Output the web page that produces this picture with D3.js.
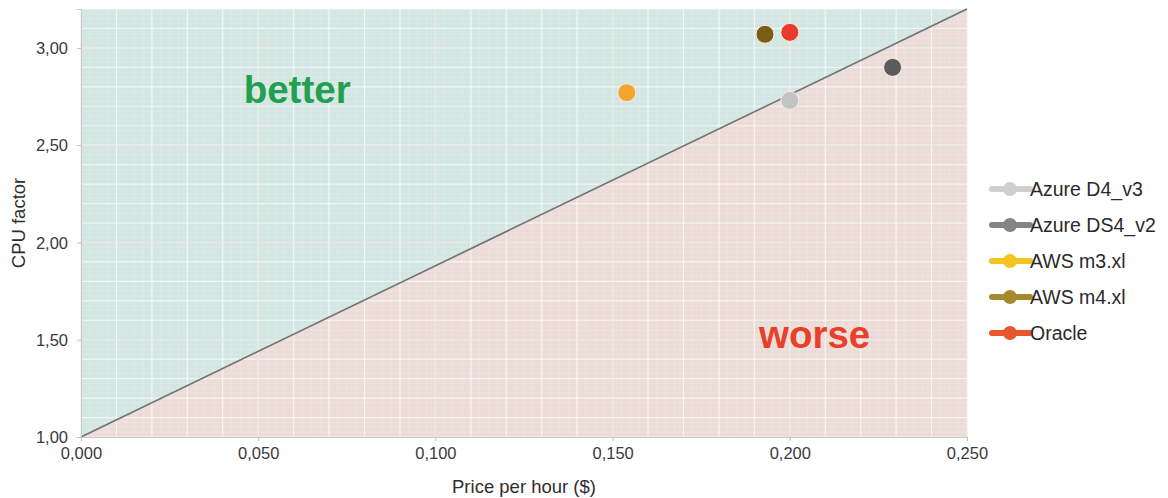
<!DOCTYPE html>
<html>
<head>
<meta charset="utf-8">
<script src="https://d3js.org/d3.v7.min.js"></script>
<style>
  body { margin: 0; background: #fff; }
  svg { display: block; font-family: "Liberation Sans", Arial, sans-serif; }
</style>
</head>
<body>
<script>
// Data
const names = ["Azure D4_v3", "Azure DS4_v2", "AWS m3.xl", "AWS m4.xl", "Oracle"];
const prices = [0.200, 0.229, 0.154, 0.193, 0.200];
const cpuFactors = [2.73, 2.90, 2.77, 3.07, 3.08];
const dotColors = ["#c3c3c3", "#595b5d", "#f4a52a", "#7b5c14", "#e8392b"];
const legendColors = ["#cfcfcf", "#848484", "#f5c320", "#a48a2c", "#e9552d"];
const xTicks = [0, 0.05, 0.1, 0.15, 0.2, 0.25];
const yTicks = [1, 1.5, 2, 2.5, 3];
const breakEven = [[0, 1], [0.25, 3.2]];
const notes = [
  { text: "better", x: 0.061, y: 2.715, color: "#22a04f" },
  { text: "worse", x: 0.207, y: 1.46, color: "#e8412b" }
];

const width = 1168, height = 498;
const marginLeft = 81, marginRight = 201, marginTop = 9, marginBottom = 61;

const x = d3.scaleLinear().domain([0, 0.25]).range([marginLeft, width - marginRight]);
const y = d3.scaleLinear().domain([1, 3.2]).range([height - marginBottom, marginTop]);

const svg = d3.select("body").append("svg").attr("width", width).attr("height", height);

// Background regions
const area = d3.line().x(d => x(d[0])).y(d => y(d[1]));
svg.append("path")
  .attr("d", area([[0, 1], [0, 3.2], [0.25, 3.2]]) + "Z")
  .attr("fill", "#d3e6e2");
svg.append("path")
  .attr("d", area([[0, 1], [0.25, 1], [0.25, 3.2]]) + "Z")
  .attr("fill", "#ecdcd7");

// Fine grid
const grid = svg.append("g");
const fineX = d3.range(0, 0.2501, 0.0025);
const fineY = d3.range(1, 3.2001, 0.025);
grid.selectAll(".fx").data(fineX).enter().append("line")
  .attr("x1", d => x(d)).attr("x2", d => x(d))
  .attr("y1", y(1)).attr("y2", y(3.2))
  .attr("stroke", "#fff").attr("stroke-opacity", 0.22).attr("stroke-width", 0.8);
grid.selectAll(".fy").data(fineY).enter().append("line")
  .attr("y1", d => y(d)).attr("y2", d => y(d))
  .attr("x1", x(0)).attr("x2", x(0.25))
  .attr("stroke", "#fff").attr("stroke-opacity", 0.22).attr("stroke-width", 0.8);

// Minor grid
const minorX = d3.range(0, 0.2501, 0.01);
const minorY = d3.range(1, 3.2001, 0.1);
grid.selectAll(".mx").data(minorX).enter().append("line")
  .attr("x1", d => x(d)).attr("x2", d => x(d))
  .attr("y1", y(1)).attr("y2", y(3.2))
  .attr("stroke", "#fff").attr("stroke-opacity", 0.6).attr("stroke-width", 1.2);
grid.selectAll(".my").data(minorY).enter().append("line")
  .attr("y1", d => y(d)).attr("y2", d => y(d))
  .attr("x1", x(0)).attr("x2", x(0.25))
  .attr("stroke", "#fff").attr("stroke-opacity", 0.6).attr("stroke-width", 1.2);

// Major grid
grid.selectAll(".Mx").data(xTicks).enter().append("line")
  .attr("x1", d => x(d)).attr("x2", d => x(d))
  .attr("y1", y(1)).attr("y2", y(3.2))
  .attr("stroke", "#e6e3de").attr("stroke-opacity", 0.8).attr("stroke-width", 1);
grid.selectAll(".My").data(yTicks).enter().append("line")
  .attr("y1", d => y(d)).attr("y2", d => y(d))
  .attr("x1", x(0)).attr("x2", x(0.25))
  .attr("stroke", "#e6e3de").attr("stroke-opacity", 0.8).attr("stroke-width", 1);

// Break-even line
svg.append("path")
  .attr("d", area(breakEven))
  .attr("fill", "none").attr("stroke", "#6f7272").attr("stroke-width", 1.6);

// Axes
const fmtX = d => d3.format(".3f")(d).replace(".", ",");
const fmtY = d => d3.format(".2f")(d).replace(".", ",");

const xAxis = svg.append("g")
  .attr("transform", `translate(0,${y(1)})`)
  .call(d3.axisBottom(x).tickValues(xTicks).tickFormat(fmtX).tickSize(4).tickPadding(6));
const yAxis = svg.append("g")
  .attr("transform", `translate(${x(0)},0)`)
  .call(d3.axisLeft(y).tickValues(yTicks).tickFormat(fmtY).tickSize(4).tickPadding(9));

[xAxis, yAxis].forEach(function (g) {
  g.select(".domain").attr("stroke", "#c9c9c9");
  g.selectAll(".tick line").attr("stroke", "#bdbdbd");
  g.selectAll(".tick text").attr("fill", "#3a3a3a").style("font-size", "16.5px");
});
yAxis.selectAll(".tick text").attr("dy", "0.35em");

// Axis titles
svg.append("text")
  .attr("x", x(0.125)).attr("y", 493)
  .attr("text-anchor", "middle")
  .attr("fill", "#2e2e2e").style("font-size", "18.5px")
  .text("Price per hour ($)");
svg.append("text")
  .attr("transform", `translate(25,${y(2.1)}) rotate(-90)`)
  .attr("text-anchor", "middle")
  .attr("fill", "#2e2e2e").style("font-size", "18.5px")
  .text("CPU factor");

// Annotations
svg.selectAll(".note").data(notes).enter().append("text")
  .attr("x", d => x(d.x)).attr("y", d => y(d.y))
  .attr("text-anchor", "middle")
  .attr("fill", d => d.color)
  .style("font-size", "38.5px").style("font-weight", "bold")
  .text(d => d.text);

// Points
svg.selectAll(".pt").data(names).enter().append("circle")
  .attr("cx", (d, i) => x(prices[i]))
  .attr("cy", (d, i) => y(cpuFactors[i]))
  .attr("r", 9)
  .attr("fill", (d, i) => dotColors[i])
  .attr("stroke", "#f3efe6").attr("stroke-width", 1);

// Legend
const legend = svg.append("g").attr("transform", "translate(992,189)");
const rows = legend.selectAll("g").data(names).enter().append("g")
  .attr("transform", (d, i) => `translate(0,${i * 36})`);
rows.append("line")
  .attr("x1", 0).attr("x2", 38).attr("y1", 0).attr("y2", 0)
  .attr("stroke", (d, i) => legendColors[i]).attr("stroke-width", 6)
  .attr("stroke-linecap", "round");
rows.append("circle")
  .attr("cx", 18).attr("cy", 0).attr("r", 7)
  .attr("fill", (d, i) => legendColors[i]);
rows.append("text")
  .attr("x", 38).attr("y", 0).attr("dy", "0.35em")
  .attr("fill", "#2a2a2a").style("font-size", "19.5px")
  .text(d => d);
</script>
</body>
</html>
